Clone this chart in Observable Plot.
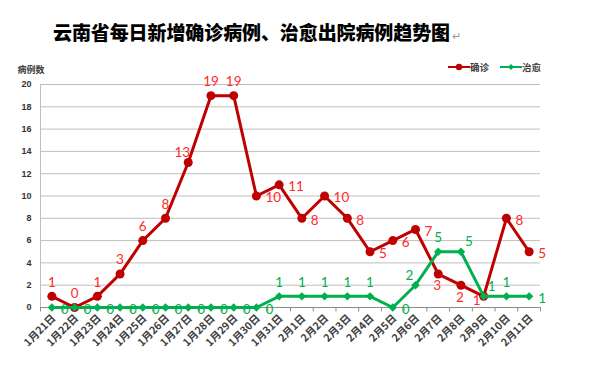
<!DOCTYPE html>
<html><head><meta charset="utf-8">
<script src="https://cdn.jsdelivr.net/npm/d3@7"></script>
<script src="https://cdn.jsdelivr.net/npm/@observablehq/plot@0.6"></script>
<style>
body{margin:0;background:#fff;width:601px;height:367px;overflow:hidden;position:relative;font-family:"Noto Sans CJK SC",sans-serif;}
#title{position:absolute;top:18px;left:53px;white-space:nowrap;font-size:19px;font-weight:900;color:#000;line-height:28px;}
#title .mark{font-size:11px;color:#999;font-weight:400;letter-spacing:0;margin-left:2px;}
#legend{position:absolute;top:60px;left:448px;font-size:9.5px;font-weight:700;color:#404040;display:flex;align-items:center;}
#legend span.item{display:flex;align-items:center;margin-right:11px;}
#chart{position:absolute;top:50px;left:0;}
</style></head>
<body>
<div id="title"><span id="ttext">云南省每日新增确诊病例、治愈出院病例趋势图</span><span class="mark">↵</span></div>
<div id="legend">
  <span class="item"><svg width="22" height="10"><line x1="0" y1="5" x2="22" y2="5" stroke="#C00000" stroke-width="2"/><circle cx="11" cy="5" r="3.2" fill="#C00000"/></svg><span>确诊</span></span>
  <span class="item"><svg width="22" height="10"><line x1="0" y1="5" x2="22" y2="5" stroke="#00B050" stroke-width="2"/><path d="M11,2 L14,5 L11,8 L8,5Z" fill="#00B050"/></svg><span>治愈</span></span>
</div>
<div id="chart"></div>
<script>
const dates = ["1月21日","1月22日","1月23日","1月24日","1月25日","1月26日","1月27日","1月28日","1月29日","1月30日","1月31日","2月1日","2月2日","2月3日","2月4日","2月5日","2月6日","2月7日","2月8日","2月9日","2月10日","2月11日"];
const confirmed = [1,0,1,3,6,8,13,19,19,10,11,8,10,8,5,6,7,3,2,1,8,5];
const cured = [0,0,0,0,0,0,0,0,0,0,1,1,1,1,1,0,2,5,5,1,1,1];
const yTicks = [0,2,4,6,8,10,12,14,16,18,20];
const seriesNames = ["确诊","治愈"];
const yLabel = "病例数";

// label placement (layout only)
const confirmedPlace = ["t","t","t","t","t","t","tl","t","t","r","r","r","r","r","r","r","r","b","b","l","r","r"];
const curedPlace = ["r","r","r","r","r","r","r","r","r","r","t","t","t","t","t","r","tl","t","tr","tr","t","r"];

// fit title width to the reference (about 397px for the 19 characters)
(function(){
  const t = document.getElementById("ttext");
  const n = t.textContent.length;
  const w = t.getBoundingClientRect().width;
  t.style.letterSpacing = ((397 - w) / n) + "px";
})();

const rows = dates.map((d,i)=>({date:d, confirmed:confirmed[i], cured:cured[i], i}));
const RED="#C00000", GREEN="#00B050", RLAB="#FF2A2A", GLAB="#00B050";
const lab = {fontFamily:"Lato, 'Liberation Sans', sans-serif", fontSize:13.5};

const placeSpec = {
  t:{dx:0,dy:-14,textAnchor:"middle"},
  tl:{dx:-6,dy:-10,textAnchor:"middle"},
  tr:{dx:8,dy:-10,textAnchor:"middle"},
  r:{dx:9,dy:2,textAnchor:"start"},
  b:{dx:-1,dy:12,textAnchor:"middle"},
  l:{dx:-3,dy:4,textAnchor:"end"}
};
function labels(key, places, fill){
  return Object.entries(placeSpec).map(([k,s])=>Plot.text(rows.filter(r=>places[r.i]===k),{x:"date",y:key,text:d=>String(d[key]),fill,...lab,...s}));
}
const L = 40, R = 540;
const step = (R-L)/dates.length;

const chart = Plot.plot({
  width:601, height:317,
  marginLeft:L, marginRight:601-R, marginTop:34, marginBottom:60,
  style:{background:"transparent"},
  x:{type:"point", domain:dates, padding:0.5, round:false, label:null},
  y:{domain:[0,20], label:null},
  marks:[
    Plot.gridY(yTicks,{stroke:"#BFBFBF",strokeOpacity:1,strokeWidth:1}),
    Plot.frame({anchor:"left",stroke:"#BFBFBF"}),
    Plot.ruleY([0],{stroke:"#8C8C8C",strokeWidth:1}),
    Plot.ruleX(dates,{x:d=>d,dx:-step/2,y1:0,y2:-0.4,stroke:"#8C8C8C"}),
    Plot.ruleX([dates[dates.length-1]],{x:d=>d,dx:step/2,y1:0,y2:-0.4,stroke:"#8C8C8C"}),
    Plot.axisY({ticks:yTicks,tickSize:0,tickPadding:9,fontSize:9,fontWeight:"bold",fill:"#333",fontFamily:"'Liberation Sans',sans-serif",label:null}),
    Plot.axisX({tickRotate:-45,tickSize:0,tickPadding:9,dx:2,fontSize:10.5,fontWeight:"bold",fill:"#404040",fontFamily:"'Noto Sans CJK SC',sans-serif",label:null}),
    Plot.text([yLabel],{frameAnchor:"top-left",text:d=>d,dx:-23,dy:-18,textAnchor:"start",fontSize:9,fill:"#404040",fontWeight:"bold",fontFamily:"'Noto Sans CJK SC',sans-serif"}),
    Plot.line(rows,{x:"date",y:"confirmed",stroke:RED,strokeWidth:3}),
    Plot.dot(rows,{x:"date",y:"confirmed",r:4.5,fill:RED,stroke:null}),
    Plot.line(rows,{x:"date",y:"cured",stroke:GREEN,strokeWidth:3}),
    Plot.dot(rows,{x:"date",y:"cured",symbol:"diamond2",r:3.8,fill:GREEN,stroke:null}),
    ...labels("confirmed",confirmedPlace,RLAB),
    ...labels("cured",curedPlace,GLAB)
  ]
});
document.getElementById("chart").appendChild(chart);
</script>
</body></html>
